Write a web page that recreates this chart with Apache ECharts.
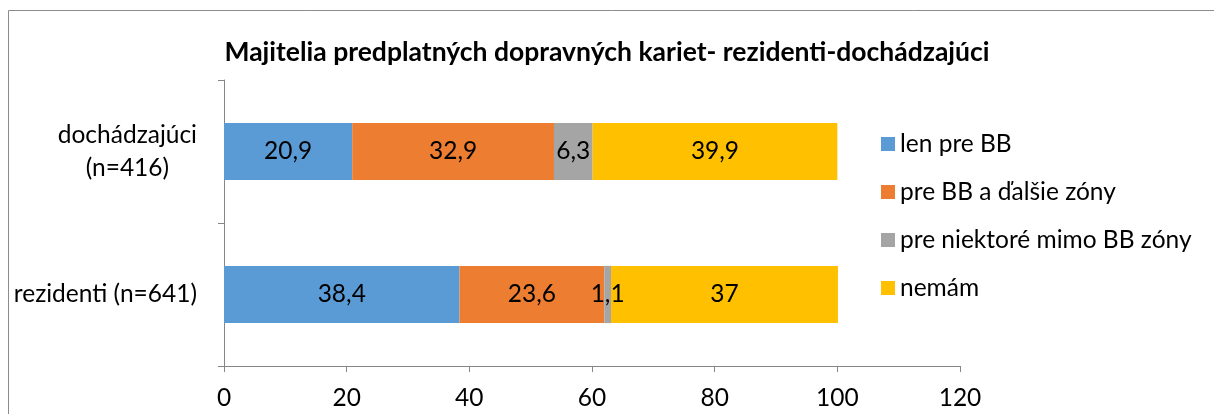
<!DOCTYPE html>
<html>
<head>
<meta charset="utf-8">
<script src="https://cdn.jsdelivr.net/npm/echarts@6/dist/echarts.min.js"></script>
<style>
  html, body { margin: 0; padding: 0; background: #fff; }
  #chart { width: 1214px; height: 414px; }
</style>
</head>
<body>
<div id="chart"></div>
<script>
  // kategórie zdola nahor (ECharts kreslí prvú kategóriu dole)
  var categories = ['rezidenti (n=641)', 'dochádzajúci\n(n=416)'];
  var seriesNames = ['len pre BB', 'pre BB a ďalšie zóny', 'pre niektoré mimo BB zóny', 'nemám'];
  var lenPreBB = [38.4, 20.9];
  var preBBaDalsie = [23.6, 32.9];
  var preNiektore = [1.1, 6.3];
  var nemam = [37, 39.9];
  var xTicks = [0, 20, 40, 60, 80, 100, 120];

  var colors = ['#5B9BD5', '#ED7D31', '#A5A5A5', '#FFC000'];
  var values = [lenPreBB, preBBaDalsie, preNiektore, nemam];
  var fontFam = 'Lato, "Open Sans", sans-serif';
  var fs = 24.5;

  var chart = echarts.init(document.getElementById('chart'), null, { renderer: 'canvas' });

  var series = [];
  for (var i = 0; i < seriesNames.length; i++) {
    series.push({
      name: seriesNames[i],
      type: 'bar',
      stack: 'total',
      barCategoryGap: '60%',
      data: values[i],
      itemStyle: { color: colors[i] },
      label: {
        show: true,
        position: 'inside',
        color: '#000',
        fontSize: fs,
        fontFamily: fontFam,
        formatter: function (p) { return String(p.value).replace('.', ','); }
      }
    });
  }

  var option = {
    backgroundColor: '#fff',
    animation: false,
    color: colors,
    title: {
      text: 'Majitelia predplatných dopravných kariet- rezidenti-dochádzajúci',
      left: 'center',
      top: 34,
      textStyle: { fontSize: 26.5, fontWeight: 'bold', color: '#000', fontFamily: fontFam }
    },
    legend: {
      orient: 'vertical',
      left: 876,
      top: 125,
      itemWidth: 14,
      itemHeight: 14,
      itemGap: 20,
      icon: 'rect',
      data: seriesNames,
      textStyle: { fontSize: fs, color: '#000', fontFamily: fontFam, lineHeight: 28 }
    },
    grid: { left: 224, right: 254, top: 80, bottom: 48 },
    xAxis: {
      type: 'value',
      min: 0,
      max: 120,
      interval: 20,
      axisLine: { show: true, lineStyle: { color: '#868686' } },
      axisTick: { show: true, length: 6, lineStyle: { color: '#868686' } },
      splitLine: { show: false },
      axisLabel: {
        color: '#000', fontSize: fs, fontFamily: fontFam, margin: 20,
        formatter: function (v) { return xTicks.indexOf(v) >= 0 ? String(v) : ''; }
      }
    },
    yAxis: {
      type: 'category',
      data: categories,
      axisLine: { show: true, lineStyle: { color: '#868686' } },
      axisTick: { show: true, length: 6, lineStyle: { color: '#868686' } },
      axisLabel: {
        margin: 27,
        color: '#000',
        fontSize: fs,
        fontFamily: fontFam,
        formatter: function (v) {
          return v.split('\n').map(function (s) { return '{a|' + s + '}'; }).join('\n');
        },
        rich: { a: { align: 'center', fontSize: fs, fontFamily: fontFam, color: '#000', lineHeight: 33 } }
      }
    },
    graphic: [{
      type: 'rect',
      shape: { x: 8.5, y: 10.5, width: 1220, height: 420 },
      style: { fill: null, stroke: '#8c8c8c', lineWidth: 1 },
      silent: true
    }],
    series: series
  };

  chart.setOption(option);
</script>
</body>
</html>
